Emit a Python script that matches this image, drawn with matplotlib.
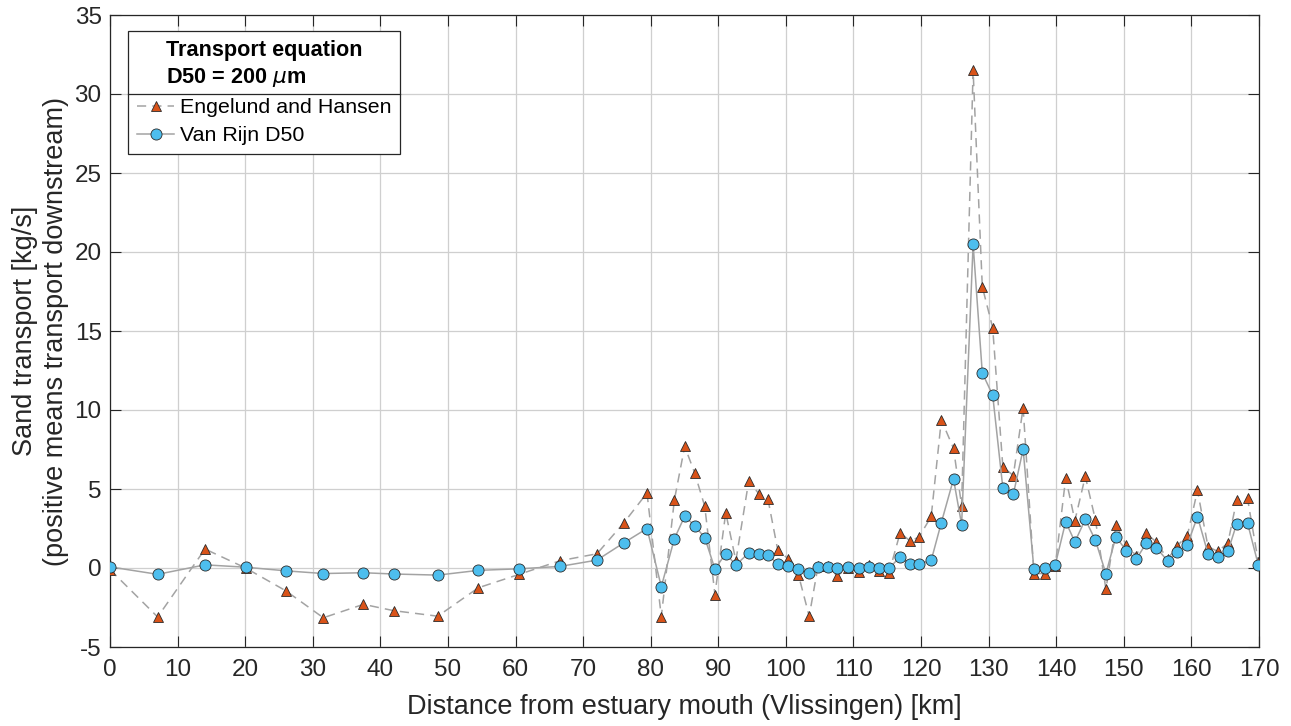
import matplotlib
matplotlib.use("Agg")
import matplotlib.pyplot as plt
from matplotlib.lines import Line2D

plt.rcParams['font.family'] = ['Liberation Sans', 'DejaVu Sans']
plt.rcParams['axes.unicode_minus'] = False

distance_km = [0, 7.05, 14.06, 20.07, 26.04, 31.56, 37.5, 41.97, 48.5, 54.5, 60.56,
               66.58, 72.05, 76.05, 79.45, 81.57, 83.5, 85.03, 86.5, 88.0, 89.5,
               91.1, 92.6, 94.5, 96.0, 97.35, 98.8, 100.3, 101.85, 103.45, 104.75,
               106.3, 107.55, 109.2, 110.8, 112.33, 113.78, 115.25, 116.9, 118.4, 119.7,
               121.5, 123.0, 124.8, 126.0, 127.7, 129.06, 130.6, 132.1, 133.65, 135.1,
               136.7, 138.3, 139.85, 141.4, 142.76, 144.3, 145.8, 147.35, 148.83, 150.36,
               151.84, 153.3, 154.8, 156.5, 157.86, 159.4, 160.9, 162.45, 163.9, 165.4,
               166.7, 168.3, 169.9]

engelund_hansen = [-0.1, -3.1, 1.2, 0.0, -1.45, -3.15, -2.3, -2.7, -3.05, -1.25, -0.4,
                   0.46, 0.9, 2.87, 4.75, -3.08, 4.3, 7.7, 6.02, 3.9, -1.68,
                   3.5, 0.46, 5.5, 4.7, 4.35, 1.13, 0.6, -0.42, -3.05, 0.1,
                   0.15, -0.5, 0.0, -0.27, 0.2, -0.18, -0.32, 2.22, 1.71, 1.96,
                   3.26, 9.37, 7.58, 3.94, 31.5, 17.8, 15.2, 6.4, 5.85, 10.14,
                   -0.35, -0.35, 0.1, 5.7, 3.0, 5.8, 3.04, -1.35, 2.72, 1.46,
                   0.78, 2.19, 1.65, 0.55, 1.39, 2.05, 4.92, 1.35, 1.05, 1.58,
                   4.3, 4.4, 0.38]

van_rijn_d50 = [0.07, -0.4, 0.2, 0.05, -0.18, -0.35, -0.3, -0.38, -0.45, -0.15, -0.05,
                0.1, 0.5, 1.6, 2.5, -1.18, 1.85, 3.28, 2.68, 1.92, -0.06,
                0.91, 0.19, 0.95, 0.87, 0.83, 0.25, 0.15, -0.04, -0.34, 0.08,
                0.04, -0.03, 0.04, -0.02, 0.04, 0.0, -0.02, 0.7, 0.24, 0.27,
                0.48, 2.87, 5.63, 2.75, 20.5, 12.34, 10.94, 5.07, 4.66, 7.51,
                -0.09, -0.03, 0.19, 2.93, 1.65, 3.08, 1.75, -0.36, 1.98, 1.1,
                0.55, 1.56, 1.29, 0.44, 1.0, 1.48, 3.25, 0.91, 0.7, 1.05,
                2.8, 2.85, 0.19]

x_ticks = list(range(0, 171, 10))
y_ticks = list(range(-5, 36, 5))

fig = plt.figure(figsize=(12.91, 7.26), dpi=100)
ax = fig.add_axes([110/1291, 1-647/726, 1149/1291, 632/726])

line_gray = '#a3a3a3'
l1, = ax.plot(distance_km, engelund_hansen, linestyle=(0, (6, 4)), color=line_gray, lw=1.1,
              marker='^', markersize=7.5, markerfacecolor='#D95319',
              markeredgecolor='#2b2b2b', markeredgewidth=0.6, label='Engelund and Hansen', zorder=3)
l2, = ax.plot(distance_km, van_rijn_d50, linestyle='-', color=line_gray, lw=1.1,
              marker='o', markersize=8, markerfacecolor='#4DBEEE',
              markeredgecolor='#2b2b2b', markeredgewidth=0.6, label='Van Rijn D50', zorder=4)

ax.set_xlim(0, 170)
ax.set_ylim(-5, 35)
ax.set_xticks(x_ticks)
ax.set_yticks(y_ticks)
ax.grid(True, color='#cfcfcf', lw=0.9)
ax.set_axisbelow(True)
ax.tick_params(direction='in', length=8, width=0.8, colors='#262626', labelsize=17.5,
               top=True, right=True)
ax.tick_params(axis='x', pad=9)
ax.tick_params(axis='y', pad=6)
for s in ax.spines.values():
    s.set_color('#262626')
    s.set_linewidth(0.9)

ax.set_xlabel('Distance from estuary mouth (Vlissingen) [km]', fontsize=19.5, color='#262626', labelpad=9)
ax.set_ylabel('Sand transport [kg/s]\n(positive means transport downstream)', fontsize=19.5,
              color='#262626', labelpad=4, linespacing=1.25)

leg = ax.legend(handles=[l1, l2], loc='upper left', bbox_to_anchor=(0.016, 0.974),
                borderaxespad=0, fontsize=15.4, title='Transport equation\nD50 = 200 $\\mu$m',
                title_fontproperties={'weight': 'bold', 'size': 15.6},
                fancybox=False, framealpha=1, edgecolor='#262626', handlelength=1.75,
                handletextpad=0.25, borderpad=0.4, labelspacing=0.42)
leg.get_title().set_linespacing(1.3)
leg.get_frame().set_linewidth(0.9)

fig.canvas.draw()
renderer = fig.canvas.get_renderer()
fb = leg.get_frame().get_window_extent(renderer)
tb = leg._legend_title_box.get_window_extent(renderer)
hb = leg._legend_handle_box.get_window_extent(renderer)
ysep = (tb.y0 + hb.y1) / 2.0
H = fig.bbox.height
W = fig.bbox.width
fig.add_artist(Line2D([fb.x0 / W, fb.x1 / W], [ysep / H, ysep / H],
                      transform=fig.transFigure, color='#262626', lw=0.9, zorder=10))

fig.savefig('out.png', dpi=100)
